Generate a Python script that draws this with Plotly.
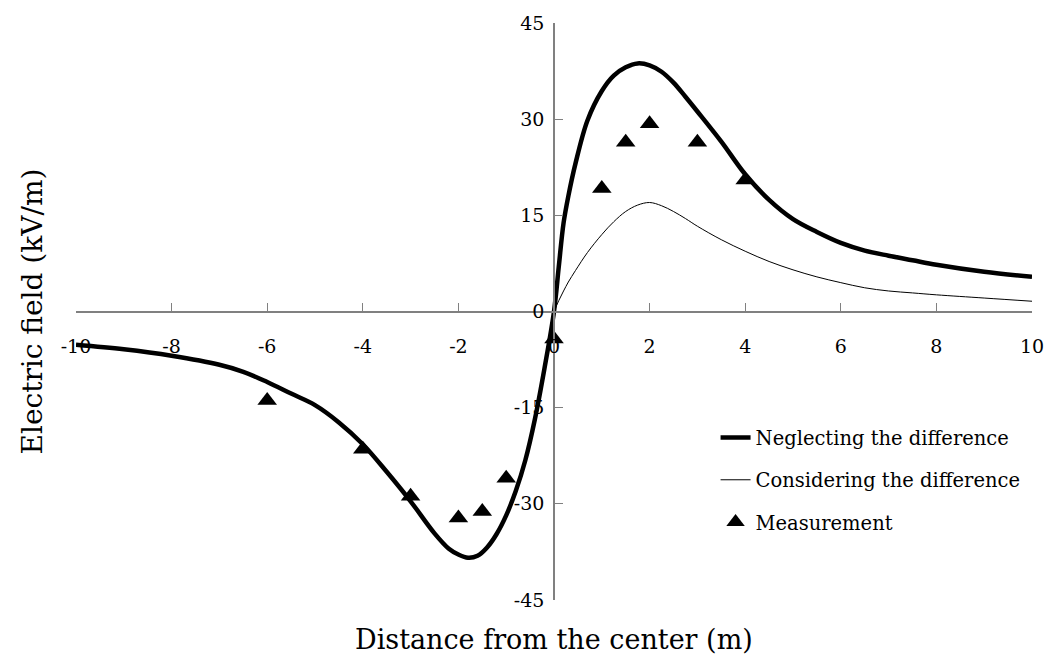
import plotly.graph_objects as go

# ---- data ----
x_model = [-10, -9, -8, -7, -6.5, -6, -5.5, -5, -4.5, -4, -3.5, -3, -2.5, -2.2, -2, -1.8,
           -1.6, -1.4, -1.2, -1, -0.8, -0.6, -0.4, -0.2, 0, 0.1, 0.2, 0.3, 0.45, 0.7, 1,
           1.25, 1.5, 1.75, 2, 2.25, 2.5, 2.75, 3, 3.5, 4, 4.5, 5, 5.5, 6, 6.5, 7, 7.5,
           8, 9, 10]
neglecting = [-5.2, -5.9, -6.9, -8.3, -9.4, -11.0, -12.8, -14.6, -17.3, -20.7, -25.0, -29.6,
              -34.6, -37.0, -37.9, -38.4, -38.1, -36.8, -34.7, -31.8, -28.0, -23.2, -16.8,
              -8.9, 0.0, 7.0, 13.8, 18.0, 23.1, 29.8, 34.4, 36.8, 38.1, 38.7, 38.4, 37.4,
              35.7, 33.5, 31.2, 26.5, 21.4, 17.4, 14.4, 12.4, 10.7, 9.5, 8.7, 8.0, 7.3,
              6.2, 5.4]

x_consider = [0, 0.1, 0.2, 0.3, 0.45, 0.7, 1, 1.25, 1.5, 1.75, 2, 2.25, 2.5, 2.75, 3, 3.5,
              4, 4.5, 5, 5.5, 6, 6.5, 7, 7.5, 8, 9, 10]
considering = [0.0, 1.7, 3.2, 4.6, 6.4, 9.2, 12.0, 14.0, 15.6, 16.6, 17.0, 16.5, 15.6, 14.5,
               13.3, 11.2, 9.4, 7.8, 6.5, 5.4, 4.5, 3.7, 3.2, 2.9, 2.6, 2.1, 1.6]

x_meas = [-6, -4, -3, -2, -1.5, -1, 0, 1, 1.5, 2, 3, 4]
y_meas = [-13.9, -21.5, -28.8, -32.2, -31.2, -26.0, -4.3, 19.2, 26.4, 29.3, 26.4, 20.5]

x_ticks = [-10, -8, -6, -4, -2, 0, 2, 4, 6, 8, 10]
y_ticks = [-45, -30, -15, 0, 15, 30, 45]

FONT = "DejaVu Serif"

fig = go.Figure()
fig.add_trace(go.Scatter(
    x=x_model, y=neglecting, mode="lines", name="Neglecting the difference",
    line=dict(color="black", width=4.5, shape="spline", smoothing=1.0),
    legendgroup="a"))
fig.add_trace(go.Scatter(
    x=x_consider, y=considering, mode="lines", name="Considering the difference",
    line=dict(color="black", width=1, shape="spline", smoothing=1.0),
    legendgroup="b"))
fig.add_trace(go.Scatter(
    x=x_meas, y=y_meas, mode="markers", name="Measurement",
    marker=dict(symbol="triangle-up", size=17, color="black"),
    legendgroup="c"))

fig.update_layout(
    width=1056, height=662,
    margin=dict(l=76, r=19, t=22, b=62),
    paper_bgcolor="white", plot_bgcolor="white",
    font=dict(family=FONT, size=19, color="black"),
    showlegend=True,
    legend=dict(x=0.669, y=0.315, xanchor="left", yanchor="top",
                font=dict(family=FONT, size=19.5, color="black"),
                bgcolor="rgba(0,0,0,0)", tracegroupgap=14),
    xaxis=dict(range=[-10, 10], tickvals=x_ticks, ticktext=[str(v) for v in x_ticks],
               anchor="free", position=0.5, showline=True, linecolor="#808080",
               linewidth=1.5, ticks="inside", ticklen=8, tickcolor="#808080",
               showgrid=False, zeroline=False, ticklabelstandoff=18,
               tickfont=dict(family=FONT, size=19)),
    yaxis=dict(range=[-45, 45], tickvals=y_ticks, ticktext=[str(v) for v in y_ticks],
               anchor="free", position=0.5, showline=True, linecolor="#808080",
               linewidth=1.5, ticks="inside", ticklen=8, tickcolor="#808080",
               showgrid=False, zeroline=False, ticklabelstandoff=5,
               tickfont=dict(family=FONT, size=19)),
    annotations=[
        dict(text="Distance from the center (m)", xref="paper", yref="paper",
             x=0.5, y=-0.068, xanchor="center", yanchor="middle", showarrow=False,
             font=dict(family=FONT, size=27)),
        dict(text="Electric field (kV/m)", xref="paper", yref="paper",
             x=-0.045, y=0.5, xanchor="center", yanchor="middle", showarrow=False,
             textangle=-90, font=dict(family=FONT, size=28)),
    ],
)

fig.write_html("out.html")
